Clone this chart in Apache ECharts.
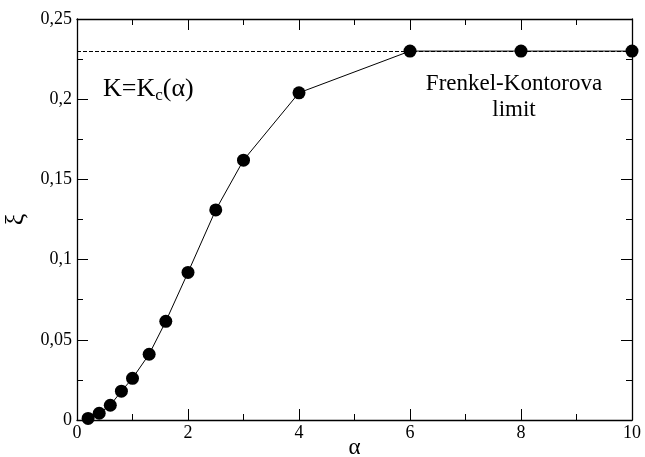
<!DOCTYPE html>
<html>
<head>
<meta charset="utf-8">
<script src="https://cdn.jsdelivr.net/npm/echarts@6/dist/echarts.min.js"></script>
<style>html,body{margin:0;padding:0;background:#fff}#c{width:645px;height:457px}</style>
</head>
<body>
<div id="c"></div>
<script>
var alphaValues = [0.2, 0.4, 0.6, 0.8, 1.0, 1.3, 1.6, 2.0, 2.5, 3.0, 4.0, 6.0, 8.0, 10.0];
var xiValues = [0.001, 0.0042, 0.0092, 0.018, 0.026, 0.041, 0.0615, 0.092, 0.131, 0.162, 0.204, 0.23, 0.23, 0.23];
var fkLimit = 0.23;
var xTicks = [0, 2, 4, 6, 8, 10];
var yTicks = [0, 0.05, 0.1, 0.15, 0.2, 0.25];

var serif = '"Liberation Serif","DejaVu Serif",serif';
var pts = alphaValues.map(function (a, i) { return [a, xiValues[i]]; });
function fmtY(v) { return String(+v.toFixed(3)).replace('.', ','); }

var axisCommon = {
  axisLine: { show: true, onZero: false, lineStyle: { color: '#000', width: 1.3 } },
  axisTick: { show: true, inside: true, length: 11, lineStyle: { color: '#000', width: 1 } },
  minorTick: { show: true, splitNumber: 2, length: 6, lineStyle: { color: '#000', width: 1 } },
  splitLine: { show: false },
  minorSplitLine: { show: false }
};

var chart = echarts.init(document.getElementById('c'), null, { renderer: 'canvas' });
chart.setOption({
  animation: false,
  backgroundColor: '#fff',
  grid: { left: 77, right: 13, top: 19, bottom: 37, containLabel: false, outerBoundsMode: 'none' },
  xAxis: [
    Object.assign({
      type: 'value', min: xTicks[0], max: xTicks[xTicks.length - 1], interval: 2, position: 'bottom',
      name: 'α', nameLocation: 'middle', nameGap: 16, nameMoveOverlap: false,
      nameTextStyle: { fontFamily: serif, fontSize: 23, color: '#000' },
      axisLabel: { fontFamily: serif, fontSize: 18, color: '#000', margin: 4 }
    }, axisCommon),
    Object.assign({
      type: 'value', min: xTicks[0], max: xTicks[xTicks.length - 1], interval: 2, position: 'top',
      axisLabel: { show: false }
    }, axisCommon)
  ],
  yAxis: [
    Object.assign({
      type: 'value', min: yTicks[0], max: yTicks[yTicks.length - 1], interval: 0.05, position: 'left',
      name: 'ξ', nameLocation: 'middle', nameGap: 46, nameRotate: 90,
      nameTextStyle: { fontFamily: serif, fontSize: 26, color: '#000' },
      axisLabel: { fontFamily: serif, fontSize: 18, color: '#000', margin: 5, formatter: fmtY }
    }, axisCommon),
    Object.assign({
      type: 'value', min: yTicks[0], max: yTicks[yTicks.length - 1], interval: 0.05, position: 'right',
      axisLabel: { show: false }
    }, axisCommon)
  ],
  series: [{
    type: 'line',
    data: pts,
    xAxisIndex: 0, yAxisIndex: 0,
    symbol: 'circle', symbolSize: 13,
    itemStyle: { color: '#000' },
    lineStyle: { color: '#000', width: 1 },
    z: 5,
    markLine: {
      silent: true, symbol: 'none', label: { show: false },
      lineStyle: { color: '#000', width: 1, type: [4, 2] },
      data: [[{ coord: [0, fkLimit] }, { coord: [10, fkLimit] }]]
    }
  }],
  graphic: [
    {
      type: 'text', left: 103, top: 76, z: 10,
      style: {
        text: '{m|K=K}{s|c}{m|(α)}',
        rich: {
          m: { fontFamily: serif, fontSize: 26, fill: '#000' },
          s: { fontFamily: serif, fontSize: 17, fill: '#000', padding: [14, 0, 0, 0] }
        }
      }
    },
    {
      type: 'text', z: 10, x: 514, y: 71,
      style: {
        text: 'Frenkel-Kontorova\nlimit', align: 'center', verticalAlign: 'top',
        fontFamily: serif, fontSize: 23, lineHeight: 26, fill: '#000'
      }
    }
  ]
});
</script>
</body>
</html>
